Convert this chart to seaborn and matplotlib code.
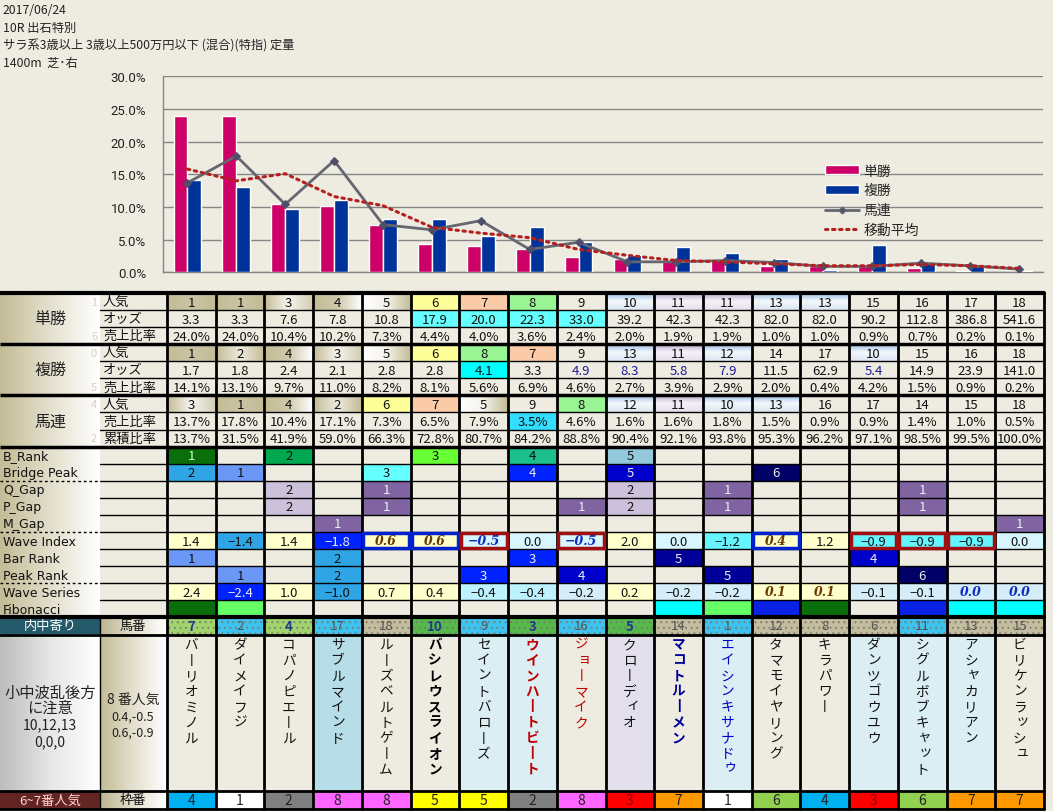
import numpy as np
import pandas as pd
import matplotlib
matplotlib.use("Agg")
import matplotlib.pyplot as plt
import seaborn as sns
from matplotlib.patches import Rectangle, Patch
from matplotlib.lines import Line2D
from matplotlib.colors import to_rgb

# ---------------- data ----------------
header_lines = ["2017/06/24", "10R 出石特別",
                "サラ系3歳以上 3歳以上500万円以下 (混合)(特指) 定量", "1400m  芝･右"]

win_pop = [1, 1, 3, 4, 5, 6, 7, 8, 9, 10, 11, 11, 13, 13, 15, 16, 17, 18]
win_odds = [3.3, 3.3, 7.6, 7.8, 10.8, 17.9, 20.0, 22.3, 33.0, 39.2, 42.3, 42.3, 82.0, 82.0, 90.2, 112.8, 386.8, 541.6]
win_share = [24.0, 24.0, 10.4, 10.2, 7.3, 4.4, 4.0, 3.6, 2.4, 2.0, 1.9, 1.9, 1.0, 1.0, 0.9, 0.7, 0.2, 0.1]

place_pop = [1, 2, 4, 3, 5, 6, 8, 7, 9, 13, 11, 12, 14, 17, 10, 15, 16, 18]
place_odds = [1.7, 1.8, 2.4, 2.1, 2.8, 2.8, 4.1, 3.3, 4.9, 8.3, 5.8, 7.9, 11.5, 62.9, 5.4, 14.9, 23.9, 141.0]
place_share = [14.1, 13.1, 9.7, 11.0, 8.2, 8.1, 5.6, 6.9, 4.6, 2.7, 3.9, 2.9, 2.0, 0.4, 4.2, 1.5, 0.9, 0.2]

quin_pop = [3, 1, 4, 2, 6, 7, 5, 9, 8, 12, 11, 10, 13, 16, 17, 14, 15, 18]
quin_share = [13.7, 17.8, 10.4, 17.1, 7.3, 6.5, 7.9, 3.5, 4.6, 1.6, 1.6, 1.8, 1.5, 0.9, 0.9, 1.4, 1.0, 0.5]
quin_cum = [13.7, 31.5, 41.9, 59.0, 66.3, 72.8, 80.7, 84.2, 88.8, 90.4, 92.1, 93.8, 95.3, 96.2, 97.1, 98.5, 99.5, 100.0]

moving_avg = [15.8, 14.0, 15.1, 11.6, 10.2, 6.9, 6.0, 5.3, 3.5, 2.6, 1.8, 1.6, 1.3, 1.0, 1.0, 1.2, 1.0, 0.6]

b_rank = ["1", "", "2", "", "", "3", "", "4", "", "5", "", "", "", "", "", "", "", ""]
bridge_peak = ["2", "1", "", "", "3", "", "", "4", "", "5", "", "", "6", "", "", "", "", ""]
q_gap = ["", "", "2", "", "1", "", "", "", "", "2", "", "1", "", "", "", "1", "", ""]
p_gap = ["", "", "2", "", "1", "", "", "", "1", "2", "", "1", "", "", "", "1", "", ""]
m_gap = ["", "", "", "1", "", "", "", "", "", "", "", "", "", "", "", "", "", "1"]
wave_index = [1.4, -1.4, 1.4, -1.8, 0.6, 0.6, -0.5, 0.0, -0.5, 2.0, 0.0, -1.2, 0.4, 1.2, -0.9, -0.9, -0.9, 0.0]
bar_rank = ["1", "", "", "2", "", "", "", "3", "", "", "5", "", "", "", "4", "", "", ""]
peak_rank = ["", "1", "", "2", "", "", "3", "", "4", "", "", "5", "", "", "", "6", "", ""]
wave_series = [2.4, -2.4, 1.0, -1.0, 0.7, 0.4, -0.4, -0.4, -0.2, 0.2, -0.2, -0.2, 0.1, 0.1, -0.1, -0.1, 0.0, 0.0]

horse_no = [7, 2, 4, 17, 18, 10, 9, 3, 16, 5, 14, 1, 12, 8, 6, 11, 13, 15]
horse_names = ["バーリオミノル", "ダイメイフジ", "コパノピエール", "サブルマインド", "ルーズベルトゲーム",
               "バシレウスライオン", "セイントバローズ", "ウインハートビート", "ジョーマイク", "クローディオ",
               "マコトルーメン", "エイシンキサナドゥ", "タマモイヤリング", "キラパワー", "ダンツゴウユウ",
               "シグルボブキャット", "アシャカリアン", "ビリケンラッシュ"]
frame_no = [4, 1, 2, 8, 8, 5, 5, 2, 8, 3, 7, 1, 6, 4, 3, 6, 7, 7]

note_left = ["小中波乱後方", "に注意", "10,12,13", "0,0,0"]
note_mid = ["8 番人気", "0.4,-0.5", "0.6,-0.9"]

# ---------------- styles ----------------
BG = "#EEECE1"
W, H = 1053, 812
sns.set_theme(style="white")
plt.rcParams["font.family"] = ["Noto Sans CJK JP", "DejaVu Sans"]
plt.rcParams["hatch.linewidth"] = 0.6

fig = plt.figure(figsize=(W / 100, H / 100), dpi=100, facecolor=BG)
tab = fig.add_axes([0, 0, 1, 1])
tab.set_facecolor(BG)
tab.axis("off")

X0 = 167.0
CW = (1044.0 - X0) / 18
Y0 = 294.0
RH = 17.07
Y_NO = Y0 + 19 * RH
Y_NAME = Y_NO + 17.2
Y_FRAME = 792.0
Y_END = 810.0


def cx(i):
    return X0 + i * CW


def ry(r):
    return Y0 + r * RH


def rect(x, y, w, h, fc, z=1):
    tab.add_patch(Rectangle((x, y), w, h, facecolor=fc, edgecolor="none", lw=0, zorder=z))


def grad(x, y, w, h, cols, horizontal=True, z=1):
    rgb = np.array([to_rgb(c) for c in cols])
    n = 64
    t = np.linspace(0, 1, n)
    pos = np.linspace(0, 1, len(cols))
    arr = np.stack([np.interp(t, pos, rgb[:, k]) for k in range(3)], axis=-1)
    img = arr[None, :, :] if horizontal else arr[:, None, :]
    tab.imshow(img, extent=(x, x + w, y + h, y), origin="upper", aspect="auto",
               interpolation="bilinear", zorder=z)


BEIGE = "#C4BC96"


def pop_cell(i, r, p):
    x, y = cx(i), ry(r)
    if p == 1:
        grad(x, y, CW, RH, [BEIGE, "#CBC4A4", BEIGE])
    elif p == 2:
        grad(x, y, CW, RH, [BEIGE, "#ECE9DE", BEIGE])
    elif p == 3:
        grad(x, y, CW, RH, [BEIGE, "#F6F4EE", "#D2CCB4"])
    elif p == 4:
        grad(x, y, CW, RH, [BEIGE, "#CFC8AA", "#FFFFFF"])
    elif p == 5:
        grad(x, y, CW, RH, ["#FFFFFF", "#F4F2EA", BEIGE])
    elif p == 6:
        rect(x, y, CW, RH, "#FFFF99")
    elif p == 7:
        rect(x, y, CW, RH, "#FBCBA8")
    elif p == 8:
        rect(x, y, CW, RH, "#99F593")
    elif p in (10, 12, 13):
        grad(x, y, CW, RH, ["#8DB4E2", "#F4F8FC", "#DCE6F2"], horizontal=False)
    elif p == 11:
        grad(x, y, CW, RH, ["#B1A0C7", "#F4F1F8", "#E6E0EE"], horizontal=False)
    tab.text(x + CW / 2, y + RH / 2 + 0.5, str(p), ha="center", va="center", fontsize=9.5, color="#111", zorder=5)


def val_cell(i, r, s, fc=None, tc="#111"):
    x, y = cx(i), ry(r)
    if fc:
        rect(x, y, CW, RH, fc)
    tab.text(x + CW / 2, y + RH / 2 + 0.5, s, ha="center", va="center", fontsize=9.5, color=tc, zorder=5)


def bi_cell(i, r, s, fc, tc):
    x, y = cx(i), ry(r)
    rect(x, y, CW, RH, fc)
    tab.text(x + CW / 2, y + RH / 2, s, ha="center", va="center", fontsize=9, color=tc, zorder=5,
             family=["DejaVu Serif"], weight="bold", style="italic")


# ---- header texts
for k, s in enumerate(header_lines):
    tab.text(3, 11 + k * 17.5, s, ha="left", va="center", fontsize=8.8, color="#222")

# ---- top section
groups = [("単勝", ["人気", "オッズ", "売上比率"], ("1", "6")),
          ("複勝", ["人気", "オッズ", "売上比率"], ("0", "5")),
          ("馬連", ["人気", "売上比率", "累積比率"], ("4", "2"))]
for g, (name, subs, faint) in enumerate(groups):
    y = ry(3 * g)
    grad(0, y, 100, 3 * RH, [BEIGE, "#E4E0CE", "#FFFFFF"])
    tab.text(50, y + 1.5 * RH, name, ha="center", va="center", fontsize=11.5, color="#222", zorder=5)
    tab.text(94, y + RH / 2, faint[0], ha="center", va="center", fontsize=8, color="#D6D2C4", zorder=5)
    tab.text(94, y + 2.5 * RH, faint[1], ha="center", va="center", fontsize=8, color="#D6D2C4", zorder=5)
    for k, s in enumerate(subs):
        tab.text(103, y + (k + 0.5) * RH, s, ha="left", va="center", fontsize=9.5, color="#111", zorder=5)

for i in range(18):
    pop_cell(i, 0, win_pop[i])
    val_cell(i, 1, f"{win_odds[i]:.1f}", "#66FFFF" if 15 <= win_odds[i] <= 35 else None)
    val_cell(i, 2, f"{win_share[i]:.1f}%")
    pop_cell(i, 3, place_pop[i])
    po = place_odds[i]
    if i == 6:
        val_cell(i, 4, f"{po:.1f}", "#00FFFF")
    elif i in (8, 9, 10, 11, 14):
        val_cell(i, 4, f"{po:.1f}", tc="#1A1A9A")
    else:
        val_cell(i, 4, f"{po:.1f}")
    val_cell(i, 5, f"{place_share[i]:.1f}%")
    pop_cell(i, 6, quin_pop[i])
    val_cell(i, 7, f"{quin_share[i]:.1f}%", "#33DDFF" if i == 7 else None)
    val_cell(i, 8, f"{quin_cum[i]:.1f}%")

# ---- lower section
low_labels = ["B_Rank", "Bridge Peak", "Q_Gap", "P_Gap", "M_Gap", "Wave Index",
              "Bar Rank", "Peak Rank", "Wave Series", "Fibonacci"]
grad(0, ry(9), 100, 10 * RH, [BEIGE, "#E2DECB", "#FFFFFF"])
for k, s in enumerate(low_labels):
    tab.text(3, ry(9 + k) + RH / 2 + 0.5, s, ha="left", va="center", fontsize=9, color="#111",
             family=["DejaVu Sans"], zorder=5)

b_rank_col = {"1": "#0A6E0A", "2": "#00A84F", "3": "#66FF33", "4": "#1DBF8C", "5": "#93C9DB"}
rank_col = {"1": "#6B97F7", "2": "#2FA5E6", "3": "#66FFFF", "4": "#0022FF", "5": "#0000CC", "6": "#000066"}
bar_col = {"1": "#6B97F7", "2": "#2FA5E6", "3": "#0022FF", "4": "#0000CC", "5": "#000099", "6": "#000066"}
gap_col = {"1": "#8064A2", "2": "#CCC0DA"}
dark = {"#0A6E0A", "#0022FF", "#0000CC", "#000099", "#000066", "#8064A2"}


def rank_row(r, vals, cmap):
    for i, s in enumerate(vals):
        if s:
            fc = cmap[s]
            tc = "#EEEEEE" if fc in dark else "#111"
            if fc == "#0A6E0A":
                tc = "#CCFFCC"
            val_cell(i, r, s, fc, tc)


rank_row(9, b_rank, b_rank_col)
rank_row(10, bridge_peak, rank_col)
rank_row(11, q_gap, gap_col)
rank_row(12, p_gap, gap_col)
rank_row(13, m_gap, gap_col)
rank_row(15, bar_rank, bar_col)
rank_row(16, peak_rank, bar_col)

wi_bold = [4, 5, 6, 8, 12]
wi_border = {4: "#0022CC", 5: "#0022CC", 6: "#A01010", 8: "#A01010", 12: "#0022CC",
             14: "#A01010", 15: "#A01010", 16: "#A01010"}


def wave_color(v):
    if v >= 0.1:
        return "#FFFFCC"
    if v <= -1.8:
        return "#0022FF"
    if v <= -1.3:
        return "#2FA5E6"
    if v <= -0.8:
        return "#66F5FF"
    return "#D8F6FF"


for i, v in enumerate(wave_index):
    fc = wave_color(v)
    s = f"{v:.1f}".replace("-", "−")
    if i in wi_bold:
        bi_cell(i, 14, s, fc, "#6B3A00" if v > 0 else "#1030C0")
    else:
        val_cell(i, 14, s, fc, "#EEEEEE" if fc == "#0022FF" else "#111")

ws_col = {2.4: "#FFFFCC", -2.4: "#0022FF", 1.0: "#FFFFCC", -1.0: "#2FA5E6", 0.7: "#FFFFCC",
          0.4: "#FFFFCC", -0.4: "#BDF2FF", -0.2: "#D6EEFA", 0.2: "#FFFFCC", 0.1: "#FFFFCC",
          -0.1: "#D6EEFA", 0.0: "#D6EEFA"}
for i, v in enumerate(wave_series):
    fc = ws_col[v]
    s = f"{v:.1f}".replace("-", "−")
    if i in (12, 13, 16, 17):
        bi_cell(i, 17, s, fc, "#6B3A00" if v > 0 else "#1030C0")
    else:
        val_cell(i, 17, s, fc, "#EEEEEE" if fc == "#0022FF" else "#111")

fib_colors = {0: "#0A6E0A", 1: "#66FF66", 10: "#00FFFF", 11: "#66FF66", 12: "#0A22E6",
              13: "#0A6E0A", 15: "#0A22E6", 16: "#00FFFF", 17: "#00FFFF"}
for i, c in fib_colors.items():
    rect(cx(i), ry(18), CW, RH, c)

# ---- horse number row
rect(0, Y_NO, 100, Y_NAME - Y_NO, "#245A6A")
tab.text(50, (Y_NO + Y_NAME) / 2, "内中寄り", ha="center", va="center", fontsize=9.5, color="#FFFFFF", zorder=5)
grad(100, Y_NO, X0 - 100, Y_NAME - Y_NO, ["#BDB592", "#E2DECB", "#FFFFFF"])
tab.text(133, (Y_NO + Y_NAME) / 2, "馬番", ha="center", va="center", fontsize=9.5, color="#111", zorder=5)
no_bg = ["#A2D26E", "#3CC3F0", "#A2D26E", "#3CC3F0", "#C4BC9E", "#56B94C", "#3CC3F0", "#56B94C", "#3CC3F0",
         "#56B94C", "#C4BC9E", "#3CC3F0", "#C4BC9E", "#C4BC9E", "#C4BC9E", "#3CC3F0", "#C4BC9E", "#C4BC9E"]
no_bold = {0, 2, 5, 7, 9}
for i, n in enumerate(horse_no):
    x = cx(i)
    tab.add_patch(Rectangle((x, Y_NO), CW, Y_NAME - Y_NO, facecolor=no_bg[i], edgecolor="#7A7A6A",
                            hatch="...", lw=0, zorder=1))
    tab.text(x + CW / 2, (Y_NO + Y_NAME) / 2, str(n), ha="center", va="center", fontsize=9.5,
             color="#1F3A8A" if i in no_bold else "#555555",
             weight="bold" if i in no_bold else "normal", zorder=5)

# ---- names row
grad(0, Y_NAME, 100, Y_FRAME - Y_NAME, ["#BDBDBD", "#E6E6E6", "#FFFFFF"])
grad(100, Y_NAME, X0 - 100, Y_FRAME - Y_NAME, [BEIGE, "#E4E0CE", "#FFFFFF"])
for k, s in enumerate(note_left):
    tab.text(50, 693 + [0, 15, 32, 49][k], s, ha="center", va="center",
             fontsize=11 if k < 2 else 10, color="#222", zorder=5)
for k, s in enumerate(note_mid):
    tab.text(133, 700 + [0, 17, 33][k], s, ha="center", va="center",
             fontsize=10 if k == 0 else 9, color="#222", zorder=5)

name_bg = {3: "#B7DDE8", 6: "#DAEEF3", 7: "#DAEEF3", 9: "#E4DFEC", 11: "#DAEEF3",
           14: "#DAEEF3", 15: "#DAEEF3", 16: "#DAEEF3"}
name_style = {5: ("#000000", "bold"), 7: ("#C00000", "bold"), 8: ("#C00000", "normal"),
              10: ("#000099", "bold"), 11: ("#0000CC", "normal")}
small = set("ャュョッィゥァェォ")
for i, nm in enumerate(horse_names):
    x = cx(i)
    rect(x, Y_NAME, CW, Y_FRAME - Y_NAME, name_bg.get(i, BG))
    col, wt = name_style.get(i, ("#111111", "normal"))
    for k, ch in enumerate(nm):
        yy = 645 + k * 15.6
        xx = x + CW / 2
        if ch == "ー":
            tab.text(xx, yy, "丨", ha="center", va="center", fontsize=9.8, color=col, weight=wt, zorder=5)
            continue
        if ch in small:
            xx += 3
            yy -= 2
        tab.text(xx, yy, ch, ha="center", va="center", fontsize=9.8, color=col, weight=wt, zorder=5)

# ---- frame row
rect(0, Y_FRAME, 100, Y_END - Y_FRAME, "#632523")
tab.text(50, (Y_FRAME + Y_END) / 2, "6~7番人気", ha="center", va="center", fontsize=9.5, color="#FFD6D6", zorder=5)
grad(100, Y_FRAME, X0 - 100, Y_END - Y_FRAME, ["#BDB592", "#E2DECB", "#FFFFFF"])
tab.text(133, (Y_FRAME + Y_END) / 2, "枠番", ha="center", va="center", fontsize=9.5, color="#111", zorder=5)
frame_col = {1: "#FFFFFF", 2: "#808080", 3: "#FF0000", 4: "#00B0F0", 5: "#FFFF00",
             6: "#92D050", 7: "#FF9900", 8: "#FF66FF"}
for i, f in enumerate(frame_no):
    x = cx(i)
    rect(x, Y_FRAME, CW, Y_END - Y_FRAME, frame_col[f])
    tab.text(x + CW / 2, (Y_FRAME + Y_END) / 2, str(f), ha="center", va="center", fontsize=10,
             color="#8B0000" if f == 3 else "#222", zorder=5)

# ---- grid lines
LC = "#000000"
for r in range(1, 19):
    y = ry(r)
    if r in (3, 6, 9):
        tab.plot([0, cx(18)], [y, y], color=LC, lw=2.5, zorder=6, solid_capstyle="butt")
    else:
        tab.plot([100, cx(18)], [y, y], color=LC, lw=1, zorder=6)
        if r in (11, 14, 17):
            tab.plot([0, 100], [y, y], color=LC, lw=1, ls=(0, (2, 2)), zorder=6)
for yl, lw in [(Y0, 3), (Y_NO, 3), (Y_NAME, 2), (Y_FRAME, 2), (Y_END, 2)]:
    tab.plot([0, cx(18)], [yl, yl], color=LC, lw=lw, zorder=6)
for i in range(19):
    tab.plot([cx(i), cx(i)], [Y0, Y_END], color=LC, lw=2, zorder=6)
tab.plot([100, 100], [Y_NO, Y_END], color=LC, lw=1, zorder=6)

for i, c in wi_border.items():
    tab.add_patch(Rectangle((cx(i) + 1.5, ry(14) + 1.2), CW - 3, RH - 2.4, facecolor="none",
                            edgecolor=c, lw=2.5, zorder=7))

tab.set_xlim(0, W)
tab.set_ylim(H, 0)

# ---------------- chart ----------------
ax = fig.add_axes([163 / W, 1 - 273.3 / H, 880 / W, 196 / H])
ax.set_facecolor("none")
cats = [str(i + 1) for i in range(18)]
df = pd.DataFrame({"cat": cats * 2,
                   "type": ["単勝"] * 18 + ["複勝"] * 18,
                   "val": win_share + place_share})
sns.barplot(data=df, x="cat", y="val", hue="type", hue_order=["単勝", "複勝"],
            palette=["#CC0066", "#003399"], width=0.57, saturation=1, legend=False, ax=ax,
            errorbar=None, zorder=3)
sns.lineplot(x=np.arange(18), y=quin_share, color="#666670", lw=2, marker="D", markersize=4,
             markerfacecolor="#4F4F6A", markeredgecolor="#4F4F6A", ax=ax, zorder=4, sort=False)
sns.lineplot(x=np.arange(18), y=moving_avg, color="#B42020", lw=2.2, ax=ax, zorder=5, sort=False)
ma_line = ax.lines[-1]
ma_line.set_linestyle((0, (0.8, 1.5)))
ma_line.set_dash_capstyle("round")

ax.set_xlim(-0.5, 17.5)
ax.set_ylim(0, 30)
ax.set_yticks(np.arange(0, 31, 5))
ax.set_yticklabels([f"{v:.1f}%" for v in np.arange(0, 31, 5)], family=["Roboto"], fontsize=9.5, color="#222")
ax.set_xticks(np.arange(-0.5, 18, 1))
ax.set_xticklabels([])
ax.tick_params(axis="x", length=5, color="#868686", width=1, direction="out")
ax.tick_params(axis="y", length=4, color="#868686", width=1, direction="out", pad=8)
ax.yaxis.grid(True, color="#868686", lw=1)
ax.set_axisbelow(True)
for s in ["top", "right"]:
    ax.spines[s].set_visible(False)
for s in ["left", "bottom"]:
    ax.spines[s].set_color("#868686")
    ax.spines[s].set_linewidth(1)
ax.set_xlabel("")
ax.set_ylabel("")

handles = [Patch(facecolor="#CC0066"), Patch(facecolor="#003399"),
           Line2D([], [], color="#666670", lw=2, marker="D", markersize=3.5, markerfacecolor="#4F4F6A"),
           Line2D([], [], color="#B42020", lw=2.2, ls=(0, (0.8, 1.5)), dash_capstyle="round")]
ax.legend(handles, ["単勝", "複勝", "馬連", "移動平均"], loc="upper left",
          bbox_to_anchor=(812 / W, 1 - 152 / H), bbox_transform=fig.transFigure,
          frameon=False, fontsize=10, handlelength=2.5, handleheight=0.55,
          labelspacing=0.42, handletextpad=0.3)

fig.savefig("out.png", dpi=100, facecolor=BG)
